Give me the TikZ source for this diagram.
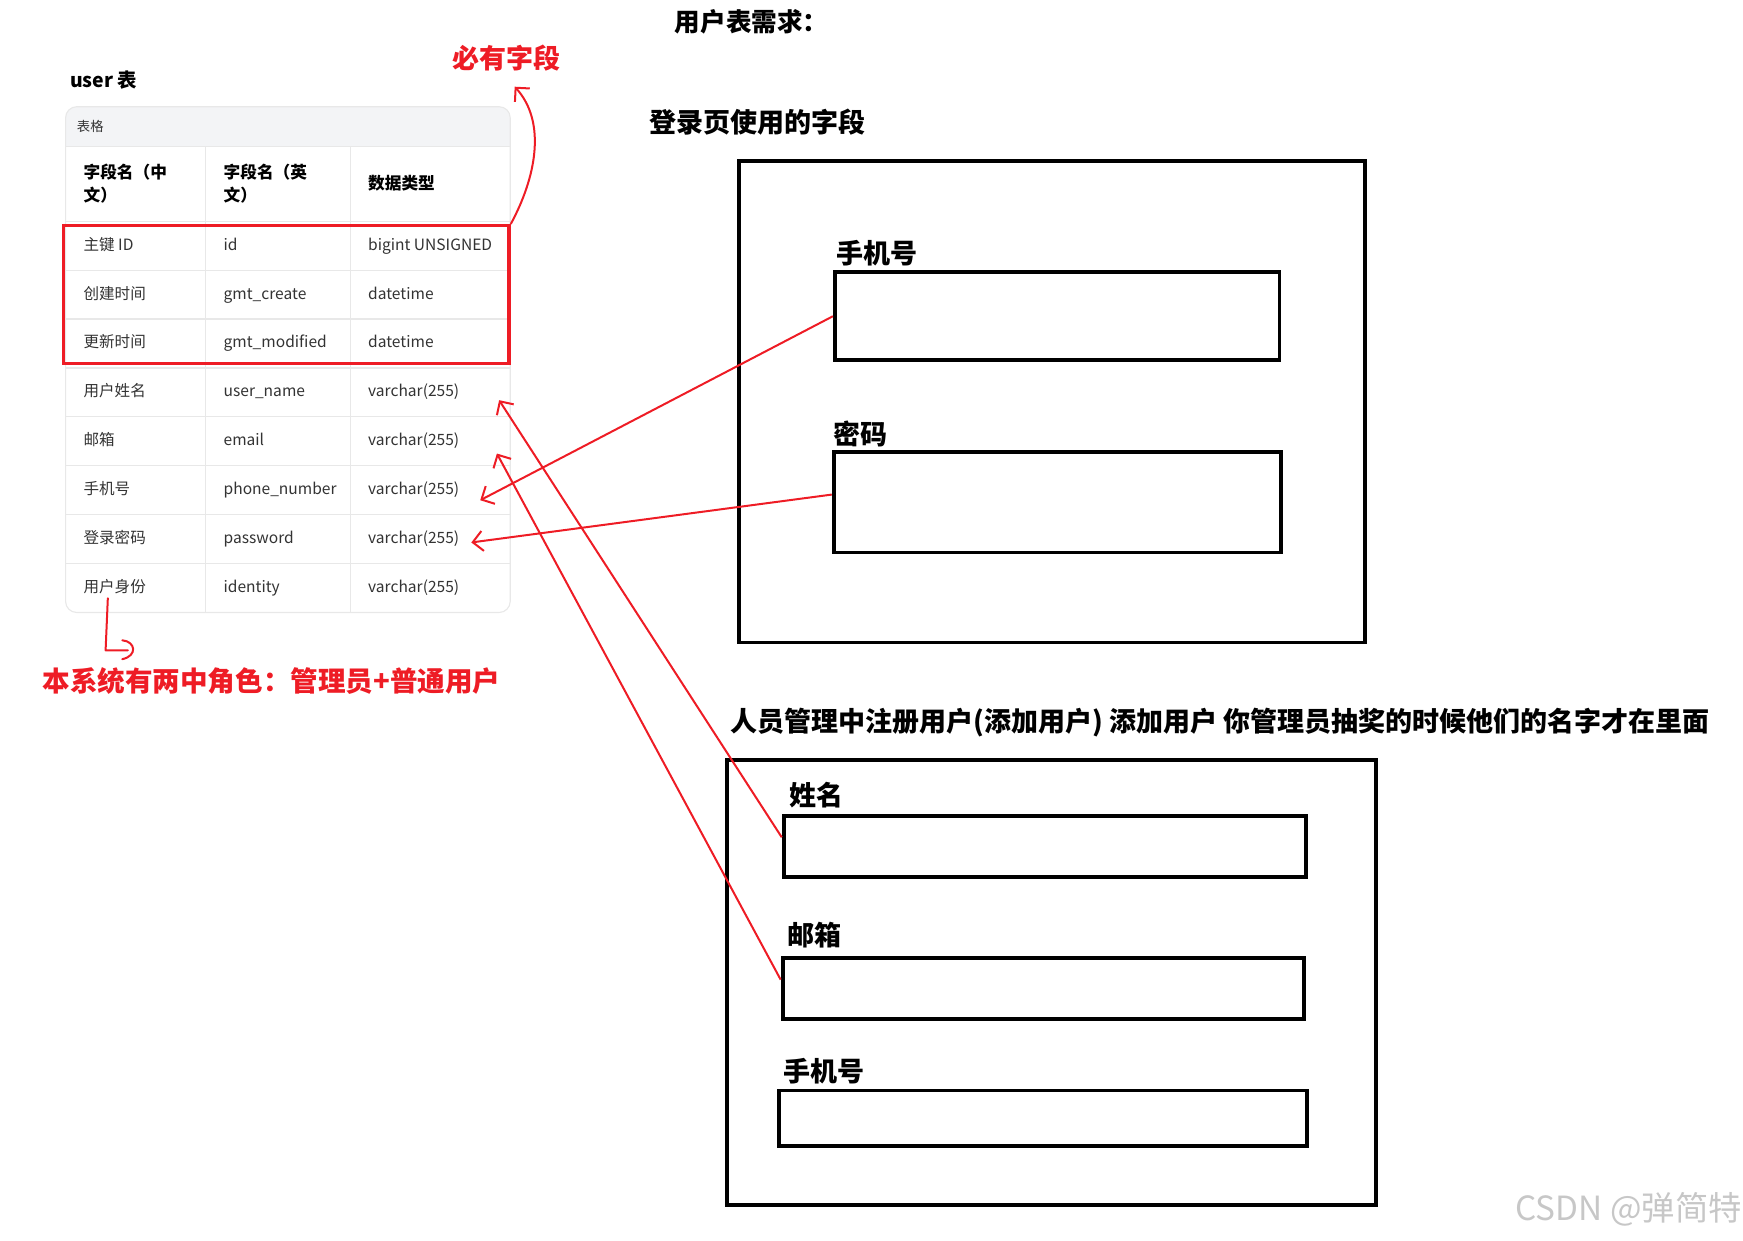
\documentclass[tikz,border=0pt]{standalone}
\usepackage{fontspec}
\setmainfont{Noto Sans CJK SC}
\usetikzlibrary{arrows.meta}
\definecolor{redline}{HTML}{EE1C25}
\definecolor{cellline}{HTML}{E8E8E8}
\definecolor{headbg}{HTML}{F3F4F6}
\definecolor{celltext}{HTML}{333333}
\begin{document}
\begin{tikzpicture}[x=1pt,y=-1pt,
  cell/.style={anchor=west, inner sep=0pt, font=\fontsize{14}{16}\selectfont, text=celltext, text height=11pt, text depth=3pt},
  headcell/.style={anchor=west, inner sep=0pt, font=\fontsize{15}{21}\selectfont\bfseries, align=left},
  bigtitle/.style={anchor=west, inner sep=0pt, font=\fontsize{24.3}{28}\selectfont\bfseries},
  redtitle/.style={bigtitle, text=redline},
  fieldbox/.style={draw, line width=3.5pt, inner sep=0pt},
  grid/.style={draw=cellline, line width=1pt},
  redarrow/.style={draw=redline, line width=1.8pt, -{Straight Barb[length=9pt,width=18pt,line width=1.8pt]}},
  redhand/.style={draw=redline, line width=1.8pt, line cap=round, line join=round}]
\useasboundingbox (0,0) rectangle (1568,1116);

% ---------- titles ----------
\node[bigtitle, font=\fontsize{23}{26}\selectfont\bfseries] (maintitle) at (607,20) {用户表需求：};
\node[redtitle] (mustlabel) at (407,52) {必有字段};
\node[anchor=west, inner sep=0pt, font=\fontsize{17.5}{20}\selectfont\bfseries] (tabletitle) at (63,72) {user 表};

% ---------- table card ----------
\begin{scope}
  \clip[rounded corners=10pt] (59,96) rectangle (459,551);
  \fill[white] (59,96) rectangle (459,551);
  \fill[headbg] (59,96) rectangle (459,132);
\end{scope}
\draw[grid, rounded corners=10pt] (59,96) rectangle (459,551);
\draw[grid] (59,132) -- (459,132);
\foreach \yy in {199,243,287,331,375,419,463,507} \draw[grid] (59,\yy) -- (459,\yy);
\draw[grid] (185,132) -- (185,551);
\draw[grid] (315,132) -- (315,551);
\node[anchor=west, inner sep=0pt, font=\fontsize{12}{14}\selectfont, text=celltext] (tablecap) at (69,114) {表格};

% header
\node[headcell] (h1) at (75,165) {字段名（中\\文）};
\node[headcell] (h2) at (201,165) {字段名（英\\文）};
\node[headcell] (h3) at (331,165) {数据类型};

% rows
\node[cell] (a1) at (75,221) {主键 ID};
\node[cell] (b1) at (201,221) {id};
\node[cell] (c1) at (331,221) {bigint UNSIGNED};
\node[cell] (a2) at (75,265) {创建时间};
\node[cell] (b2) at (201,265) {gmt\_create};
\node[cell] (c2) at (331,265) {datetime};
\node[cell] (a3) at (75,309) {更新时间};
\node[cell] (b3) at (201,309) {gmt\_modified};
\node[cell] (c3) at (331,309) {datetime};
\node[cell] (a4) at (75,353) {用户姓名};
\node[cell] (b4) at (201,353) {user\_name};
\node[cell] (c4) at (331,353) {varchar(255)};
\node[cell] (a5) at (75,397) {邮箱};
\node[cell] (b5) at (201,397) {email};
\node[cell] (c5) at (331,397) {varchar(255)};
\node[cell] (a6) at (75,441) {手机号};
\node[cell] (b6) at (201,441) {phone\_number};
\node[cell] (c6) at (331,441) {varchar(255)};
\node[cell] (a7) at (75,485) {登录密码};
\node[cell] (b7) at (201,485) {password};
\node[cell] (c7) at (331,485) {varchar(255)};
\node[cell] (a8) at (75,529) {用户身份};
\node[cell] (b8) at (201,529) {identity};
\node[cell] (c8) at (331,529) {varchar(255)};

% required-fields red frame
\node[draw=redline, line width=3pt, inner sep=0pt, minimum width=401pt, minimum height=124pt] (required) at (257.5,265) {};

% roles note
\node[redtitle, font=\fontsize{24.8}{28}\selectfont\bfseries] (roles) at (38,613) {本系统有两中角色：管理员+普通用户};

% ---------- right side: login page ----------
\node[bigtitle] (logintitle) at (584,110) {登录页使用的字段};
\node[fieldbox, minimum width=563pt, minimum height=433pt] (loginpage) at (946.5,361.5) {};
\node[bigtitle] (lphonelabel) at (752,228) {手机号};
\node[fieldbox, minimum width=400pt, minimum height=79pt] (lphone) at (951,284.5) {};
\node[bigtitle] (lpwlabel) at (750,390) {密码};
\node[fieldbox, minimum width=402pt, minimum height=90pt] (lpw) at (951,452) {};

% ---------- right side: user management ----------
\node[bigtitle] (regtitle) at (657,650) {人员管理中注册用户(添加用户) 添加用户 你管理员抽奖的时候他们的名字才在里面};
\node[fieldbox, minimum width=584pt, minimum height=400pt] (regpage) at (946,884) {};
\node[bigtitle] (rnamelabel) at (710,715) {姓名};
\node[fieldbox, minimum width=470pt, minimum height=55pt] (rname) at (940,761.5) {};
\node[bigtitle] (rmaillabel) at (708,841) {邮箱};
\node[fieldbox, minimum width=469pt, minimum height=55pt] (rmail) at (938.5,889.5) {};
\node[bigtitle] (rphonelabel) at (705,964) {手机号};
\node[fieldbox, minimum width=475pt, minimum height=50pt] (rphone) at (938.5,1006) {};

% watermark
\node[anchor=west, inner sep=0pt, font=\fontsize{30}{34}\selectfont, text=black!22] (wm) at (1363,1088) {CSDN @弹简特};

% ---------- red annotations ----------
\coordinate (musttip) at (463,78);
\coordinate (phonetip) at (432,450);
\coordinate (pwtip) at (424,488);
\coordinate (nametip) at (449,360);
\coordinate (mailtip) at (447,408);
\coordinate (hookcorner) at (95,585);
\coordinate (hookend) at (115,585);

\draw[redarrow] (required.north east) .. controls (482,160) and (492,110) .. (musttip);
\draw[redarrow] (lphone.west) -- (phonetip);
\draw[redarrow] (lpw.178) -- (pwtip);
\draw[redarrow] (rname.178) -- (nametip);
\draw[redarrow] (rmail.178) -- (mailtip);

\draw[redhand] ([xshift=22pt,yshift=-2pt]a8.south west) -- (hookcorner) -- (hookend);
\draw[redhand] (110,576) .. controls (122,577) and (124,590) .. (110,593);
\end{tikzpicture}
\end{document}
